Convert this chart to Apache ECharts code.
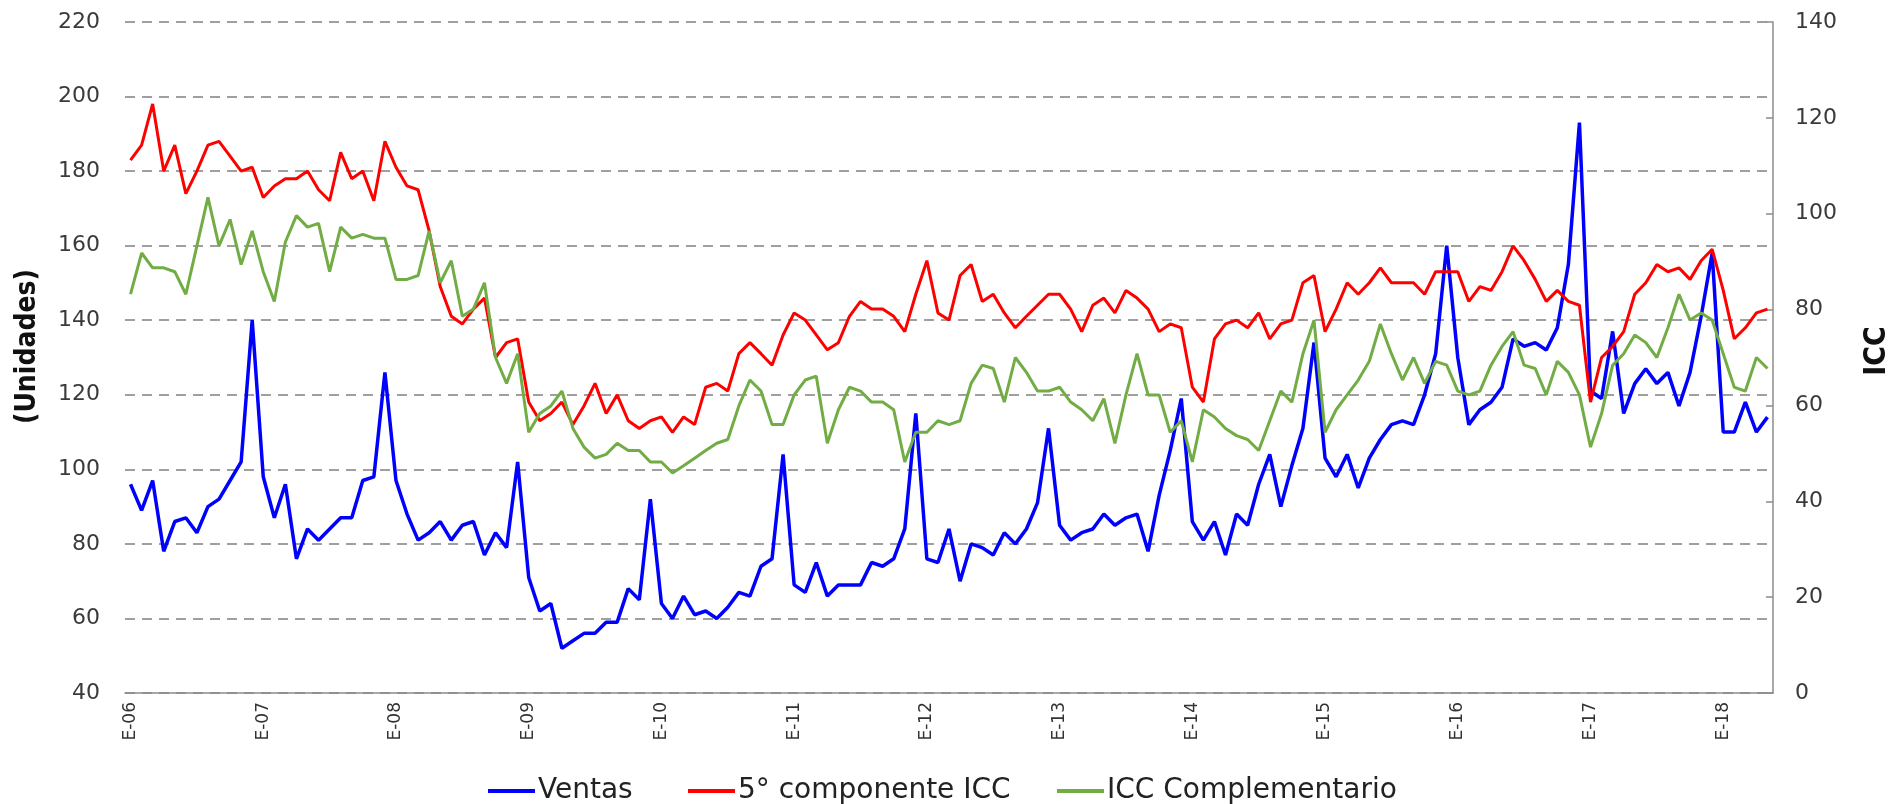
<!DOCTYPE html>
<html>
<head>
<meta charset="utf-8">
<script src="https://cdn.jsdelivr.net/npm/echarts@6/dist/echarts.min.js"></script>
<style>
	html, body { margin: 0; padding: 0; background: #fff; }
	#chart { width: 1890px; height: 804px; }
</style>
</head>
<body>
<div id="chart"></div>
<script>
// month initials (Spanish, E = enero) and years of the category axis
const monthInitials = ['E', 'F', 'M', 'A', 'M', 'J', 'J', 'A', 'S', 'O', 'N', 'D'];
const years = ['06', '07', '08', '09', '10', '11', '12', '13', '14', '15', '16', '17', '18'];
const lastMonthCount = 5; // 2018 runs to May

// Ventas (Unidades), left axis, Jan 2006 - May 2018
const ventas = [
	96, 89, 97, 78, 86, 87, 83, 90, 92, 97, 102, 140,
	98, 87, 96, 76, 84, 81, 84, 87, 87, 97, 98, 126,
	97, 88, 81, 83, 86, 81, 85, 86, 77, 83, 79, 102,
	71, 62, 64, 52, 54, 56, 56, 59, 59, 68, 65, 92,
	64, 60, 66, 61, 62, 60, 63, 67, 66, 74, 76, 104,
	69, 67, 75, 66, 69, 69, 69, 75, 74, 76, 84, 115,
	76, 75, 84, 70, 80, 79, 77, 83, 80, 84, 91, 111,
	85, 81, 83, 84, 88, 85, 87, 88, 78, 93, 105, 119,
	86, 81, 86, 77, 88, 85, 96, 104, 90, 101, 111, 134,
	103, 98, 104, 95, 103, 108, 112, 113, 112, 120, 131, 160,
	130, 112, 116, 118, 122, 135, 133, 134, 132, 138, 155, 193,
	121, 119, 137, 115, 123, 127, 123, 126, 117, 126, 141, 158,
	110, 110, 118, 110, 114
];

// 5° componente ICC, right axis
const componente5 = [
	111.2, 114.3, 122.9, 108.9, 114.3, 104.2, 108.9, 114.3, 115.1, 112, 108.9, 109.7,
	103.4, 105.8, 107.3, 107.3, 108.9, 105, 102.7, 112.8, 107.3, 108.9, 102.7, 115.1,
	109.7, 105.8, 105, 96.4, 84.8, 78.6, 77, 80.1, 82.4, 70, 73.1, 73.9,
	60.7, 56.8, 58.3, 60.7, 56, 59.9, 64.6, 58.3, 62.2, 56.8, 55.2, 56.8,
	57.6, 54.4, 57.6, 56, 63.8, 64.6, 63, 70.8, 73.1, 70.8, 68.4, 74.7,
	79.3, 77.8, 74.7, 71.6, 73.1, 78.6, 81.7, 80.1, 80.1, 78.6, 75.4, 83.2,
	90.2, 79.3, 77.8, 87.1, 89.4, 81.7, 83.2, 79.3, 76.2, 78.6, 80.9, 83.2,
	83.2, 80.1, 75.4, 80.9, 82.4, 79.3, 84, 82.4, 80.1, 75.4, 77, 76.2,
	63.8, 60.7, 73.9, 77, 77.8, 76.2, 79.3, 73.9, 77, 77.8, 85.6, 87.1,
	75.4, 80.1, 85.6, 83.2, 85.6, 88.7, 85.6, 85.6, 85.6, 83.2, 87.9, 87.9,
	87.9, 81.7, 84.8, 84, 87.9, 93.3, 90.2, 86.3, 81.7, 84, 81.7, 80.9,
	60.7, 70, 72.3, 75.4, 83.2, 85.6, 89.4, 87.9, 88.7, 86.3, 90.2, 92.6,
	84, 73.9, 76.2, 79.3, 80.1
];

// ICC Complementario, right axis
const complementario = [
	83.2, 91.8, 88.7, 88.7, 87.9, 83.2, 93.3, 103.4, 93.3, 98.8, 89.4, 96.4,
	87.9, 81.7, 94.1, 99.6, 97.2, 98, 87.9, 97.2, 94.9, 95.7, 94.9, 94.9,
	86.3, 86.3, 87.1, 96.4, 85.6, 90.2, 78.6, 80.1, 85.6, 70, 64.6, 70.8,
	54.4, 58.3, 59.9, 63, 55.2, 51.3, 49, 49.8, 52.1, 50.6, 50.6, 48.2,
	48.2, 45.9, 47.4, 49, 50.6, 52.1, 52.9, 59.9, 65.3, 63, 56, 56,
	62.2, 65.3, 66.1, 52.1, 59.1, 63.8, 63, 60.7, 60.7, 59.1, 48.2, 54.4,
	54.4, 56.8, 56, 56.8, 64.6, 68.4, 67.7, 60.7, 70, 66.9, 63, 63,
	63.8, 60.7, 59.1, 56.8, 61.4, 52.1, 62.2, 70.8, 62.2, 62.2, 54.4, 56.8,
	48.2, 59.1, 57.6, 55.2, 53.7, 52.9, 50.6, 56.8, 63, 60.7, 70.8, 77.8,
	54.4, 59.1, 62.2, 65.3, 69.2, 77, 70.8, 65.3, 70, 64.6, 69.2, 68.4,
	63, 62.2, 63, 68.4, 72.3, 75.4, 68.4, 67.7, 62.2, 69.2, 66.9, 62.2,
	51.3, 58.3, 68.4, 70.8, 74.7, 73.1, 70, 76.2, 83.2, 77.8, 79.3, 77.8,
	70.8, 63.8, 63, 70, 67.7
];

const seriesNames = ['Ventas', '5° componente ICC', 'ICC Complementario'];
const seriesColors = ['#0000ff', '#ff0000', '#72ac45'];

const categories = [];
years.forEach((y, yi) => {
	const n = yi === years.length - 1 ? lastMonthCount : 12;
	for (let i = 0; i < n; i++) categories.push(monthInitials[i] + '-' + y);
});

const axisFont = 'DejaVu Sans';
const narrowFont = "'DejaVu Sans Condensed', 'Liberation Sans Narrow', sans-serif";
const gridColor = '#808080';
const axisColor = '#8c8c8c';

// one legend block per entry, placed like the original
const legendLeft = [483, 683, 1052];
const legends = seriesNames.map((name, i) => ({
	data: [name],
	left: legendLeft[i],
	top: 772,
	icon: 'rect',
	itemWidth: 47,
	itemHeight: 4,
	itemGap: 0,
	textStyle: {
		fontFamily: axisFont,
		fontSize: 28,
		color: '#222',
		padding: [0, 0, 0, -2]
	}
}));

const chart = echarts.init(document.getElementById('chart'));
chart.setOption({
	animation: false,
	grid: {
		left: 125,
		right: 117,
		top: 22,
		bottom: 111,
		outerBoundsMode: 'none'
	},
	legend: legends,
	xAxis: {
		type: 'category',
		data: categories,
		boundaryGap: true,
		axisLine: {
			lineStyle: {
				color: axisColor,
				width: 1.5
			}
		},
		axisTick: {
			show: false
		},
		axisLabel: {
			interval: (index) => index % 12 === 0,
			rotate: 90,
			margin: 9,
			fontFamily: axisFont,
			fontSize: 17,
			color: '#333'
		}
	},
	yAxis: [{
		type: 'value',
		min: 40,
		max: 220,
		interval: 20,
		name: '(Unidades)',
		nameLocation: 'middle',
		nameRotate: 90,
		nameGap: 83,
		nameTextStyle: {
			fontFamily: narrowFont,
			fontWeight: 'bold',
			fontSize: 28,
			color: '#111',
			padding: [0, 0, 0, 22]
		},
		axisLine: {
			show: false
		},
		axisTick: {
			show: false
		},
		axisLabel: {
			margin: 25,
			fontFamily: axisFont,
			fontSize: 22,
			color: '#3a3a3a'
		},
		splitLine: {
			lineStyle: {
				type: [10, 7],
				color: gridColor,
				width: 1.5
			}
		}
	}, {
		type: 'value',
		position: 'right',
		min: 0,
		max: 140,
		interval: 20,
		name: 'ICC',
		nameLocation: 'middle',
		nameRotate: 90,
		nameGap: 89,
		nameTextStyle: {
			fontFamily: narrowFont,
			fontWeight: 'bold',
			fontSize: 30,
			color: '#111',
			padding: [0, 0, 0, 13]
		},
		axisLine: {
			show: true,
			lineStyle: {
				color: axisColor,
				width: 1.5
			}
		},
		axisTick: {
			show: true,
			inside: true,
			length: 7,
			lineStyle: {
				color: axisColor,
				width: 1.5
			}
		},
		axisLabel: {
			margin: 22,
			fontFamily: axisFont,
			fontSize: 22,
			color: '#3a3a3a'
		},
		splitLine: {
			show: false
		}
	}],
	series: [{
		name: seriesNames[0],
		type: 'line',
		yAxisIndex: 0,
		symbol: 'none',
		data: ventas,
		itemStyle: { color: seriesColors[0] },
		lineStyle: { color: seriesColors[0], width: 3.5 }
	}, {
		name: seriesNames[1],
		type: 'line',
		yAxisIndex: 1,
		symbol: 'none',
		data: componente5,
		itemStyle: { color: seriesColors[1] },
		lineStyle: { color: seriesColors[1], width: 3 }
	}, {
		name: seriesNames[2],
		type: 'line',
		yAxisIndex: 1,
		symbol: 'none',
		data: complementario,
		itemStyle: { color: seriesColors[2] },
		lineStyle: { color: seriesColors[2], width: 3 }
	}]
});
</script>
</body>
</html>
